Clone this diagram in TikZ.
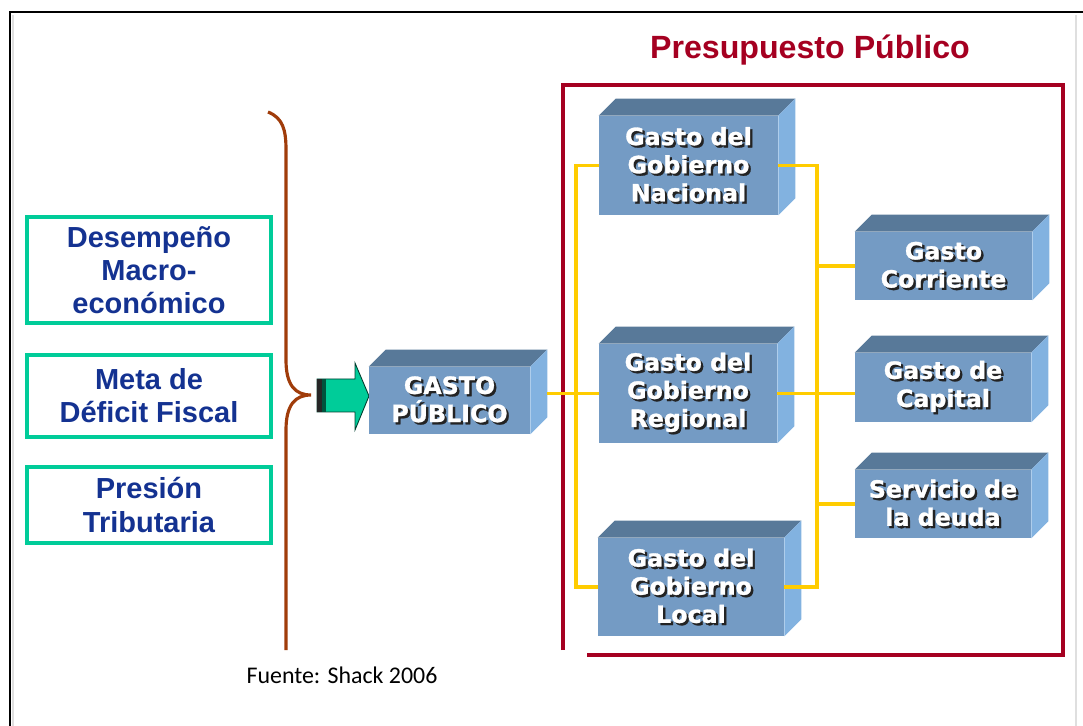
\documentclass[tikz,border=0pt]{standalone}
\usepackage{fontspec}
\setmainfont{Liberation Sans}
\newfontfamily\boxfont{DejaVu Sans}[BoldFeatures={FakeBold=1.2}]
\newfontfamily\srcfont{Carlito}
\definecolor{front}{RGB}{116,155,196}
\definecolor{topc}{RGB}{88,121,153}
\definecolor{sidec}{RGB}{130,178,224}
\definecolor{gold}{RGB}{255,204,0}
\definecolor{mint}{RGB}{0,204,153}
\definecolor{wine}{RGB}{165,0,33}
\definecolor{navy}{RGB}{20,50,145}
\definecolor{rust}{RGB}{160,60,10}
\definecolor{shade}{RGB}{35,35,35}
\newcommand\sh[1]{\makebox[0pt][l]{\hspace{1.3pt}\raisebox{-1.3pt}{\color{shade}#1}}#1}

\begin{document}
\begin{tikzpicture}[x=0.02cm,y=-0.02cm,
cube/.style={fill=front,text=white,inner sep=0pt,align=center,
  font=\boxfont\bfseries\fontsize{13.5}{16}\selectfont},
inbox/.style={draw=mint,line width=2pt,minimum width=4.88cm,inner sep=0pt,align=center,
  text=navy,font=\bfseries\fontsize{16.5}{18.8}\selectfont},
link/.style={draw=gold,line width=2.2pt}]
\useasboundingbox (0,0) rectangle (1083,726);
\draw[gray!25,line width=1pt] (13,726) -- (13,15);
\draw[gray!25,line width=1pt] (1076,15) -- (1076,726);
\draw[black,line width=1.2pt] (10,726) -- (10,12) -- (1083,12);

\node[font=\bfseries\fontsize{18.3}{22}\selectfont,text=wine] (title) at (810,50) {Presupuesto Público};
\draw[wine,line width=2.4pt] (563,650) -- (563,85) -- (1063,85) -- (1063,655) -- (587,655);

\node[inbox,minimum height=2.12cm] (des) at (149,270) {Desempeño\\Macro-\\económico};
\node[inbox,minimum height=1.64cm] (met) at (149,396) {Meta de\\Déficit Fiscal};
\node[inbox,minimum height=1.52cm] (pre) at (149,505) {Presión\\Tributaria};

\draw[rust,line width=1.8pt] (268,112) .. controls (283,118) and (286,130) .. (286,150) -- (286,360)
  .. controls (286,385) and (295,395) .. (311,395) .. controls (295,395) and (286,405) .. (286,430) -- (286,650);

\filldraw[fill=mint,draw=black!70!mint,line width=0.5pt] (317,379) -- (355,379) -- (355,363) -- (369,396)
  -- (355,430) -- (355,412) -- (317,412) -- cycle;
\fill[black!85] (317,379) rectangle (322,412);
\fill[black!60!mint] (322,379) rectangle (326,412);

\node[cube,minimum width=3.22cm,minimum height=1.34cm] (pub) at (449.5,400.5) {\sh{GASTO}\\\sh{PÚBLICO}};
\node[cube,minimum width=3.58cm,minimum height=1.98cm] (nac) at (688.5,165.5) {\sh{Gasto del}\\\sh{Gobierno}\\\sh{Nacional}};
\node[cube,minimum width=3.56cm,minimum height=1.98cm] (reg) at (688,393.5) {\sh{Gasto del}\\\sh{Gobierno}\\\sh{Regional}};
\node[cube,minimum width=3.72cm,minimum height=1.96cm] (loc) at (691,587) {\sh{Gasto del}\\\sh{Gobierno}\\\sh{Local}};
\node[cube,minimum width=3.54cm,minimum height=1.36cm] (cor) at (943.5,266) {\sh{Gasto}\\\sh{Corriente}};
\node[cube,minimum width=3.52cm,minimum height=1.38cm] (cap) at (943,387.5) {\sh{Gasto de}\\\sh{Capital}};
\node[cube,minimum width=3.52cm,minimum height=1.36cm] (ser) at (943,504) {\sh{Servicio de}\\\sh{la deuda}};
\foreach \n in {pub,nac,reg,loc,cor,cap,ser}
{
	\fill[topc] (\n.north west) -- (\n.north east) -- ++(17,-17) -- ([shift={(17,-17)}]\n.north west) -- cycle;
	\fill[sidec] (\n.north east) -- ++(17,-17) -- ([shift={(17,-17)}]\n.south east) -- (\n.south east) -- cycle;
}

\coordinate (tl) at (576,393.5);
\coordinate (tr) at (817,393.5);
\draw[link] ([xshift=0.34cm]pub.east |- reg.west) -- (reg.west);
\draw[link] (nac.west) -| (tl) |- (loc.west);
\draw[link] (nac.east) -| (tr) |- (loc.east);
\draw[link] (reg.east) -- (reg.east -| cap.west);
\draw[link] (tr |- cor.west) -- (cor.west);
\draw[link] (tr |- ser.west) -- (ser.west);

\node[font=\srcfont\fontsize{13.6}{16}\selectfont] (src) at (342,675) {Fuente: Shack 2006};
\end{tikzpicture}
\end{document}
